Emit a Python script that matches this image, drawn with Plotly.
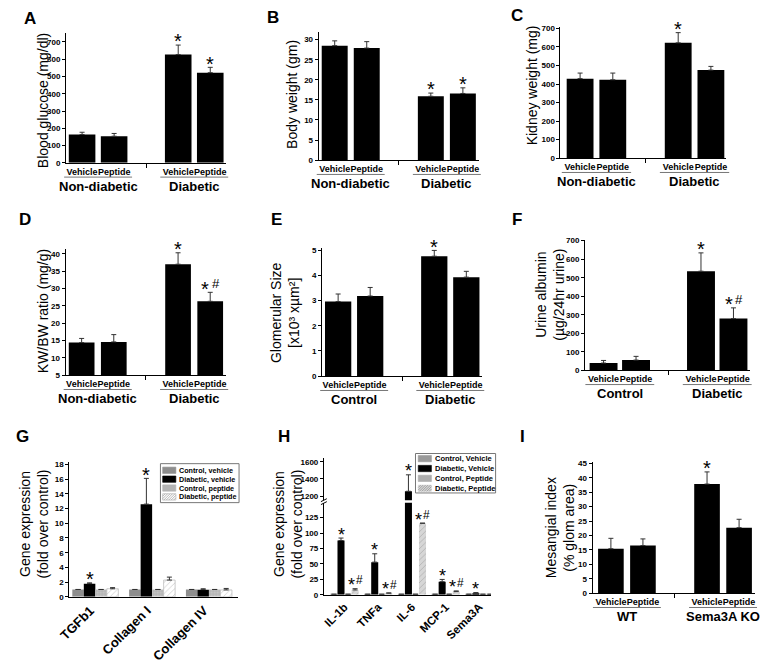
import plotly.graph_objects as go

W, H = 762, 664
FONT = "Liberation Sans, Arial, sans-serif"

# ---------------- data ----------------
treatments = ["Vehicle", "Peptide", "Vehicle", "Peptide"]
bar_pos = [0, 1, 3, 4]

glucose = [164, 154, 627, 522]
glucose_err = [13, 16, 55, 31]
glucose_sig = ["", "", "*", "*"]

body_wt = [28.5, 27.9, 15.9, 16.6]
body_wt_err = [1.2, 1.6, 0.8, 1.4]
body_wt_sig = ["", "", "*", "*"]

kidney_wt = [429, 423, 622, 475]
kidney_wt_err = [30, 36, 55, 20]
kidney_wt_sig = ["", "", "*", ""]

kwbw = [14.4, 14.6, 37.0, 26.3]
kwbw_err = [1.2, 2.1, 3.3, 2.6]
kwbw_sig = ["", "", "*", "* #"]

glom_size = [2.96, 3.18, 4.76, 3.93]
glom_size_err = [0.30, 0.34, 0.23, 0.23]
glom_size_sig = ["", "", "*", ""]

albumin = [39, 55, 535, 279]
albumin_err = [14, 20, 99, 58]
albumin_sig = ["", "", "*", "* #"]

mesangial = [15.4, 16.5, 37.8, 22.7]
mesangial_err = [3.6, 2.3, 4.2, 2.9]
mesangial_sig = ["", "", "*", ""]

g_genes = ["TGFb1", "Collagen I", "Collagen IV"]
g_series = ["Control, vehicle", "Diabetic, vehicle", "Control, peptide", "Diabetic, peptide"]
g_values = [
    [1, 1, 1],
    [1.79, 12.6, 0.98],
    [1, 1, 1],
    [1.1, 2.28, 0.94],
]
g_errors = [
    [0, 0, 0],
    [0.11, 3.5, 0.12],
    [0, 0, 0],
    [0.15, 0.4, 0.2],
]
g_sig = [
    ["", "", ""],
    ["*", "*", ""],
    ["", "", ""],
    ["", "", ""],
]

h_genes = ["IL-1b", "TNFa", "IL-6", "MCP-1", "Sema3A"]
h_series = ["Control, Vehicle", "Diabetic, Vehicle", "Control, Peptide", "Diabetic, Peptide"]
h_values = [
    [1, 1, 1, 1, 1],
    [88, 53, 1257, 21.3, 2.7],
    [1, 1, 1, 1, 1],
    [8, 2.7, 116, 5.3, 1.0],
]
h_errors = [
    [0, 0, 0, 0, 0],
    [4, 13.5, 191, 3.7, 1.0],
    [0, 0, 0, 0, 0],
    [2, 0.5, 0, 1.1, 0],
]
h_sig = [
    ["", "", "", "", ""],
    ["*", "*", "*", "*", "*"],
    ["", "", "", "", ""],
    ["*#", "*#", "*#", "*#", ""],
]

# ---------------- helpers ----------------
def px_x(p):
    return p / W

def px_y(p):
    return 1 - p / H

def ax_name(n, letter):
    return letter if n == 1 else f"{letter}{n}"

fig = go.Figure()
layout = dict(
    width=W, height=H, margin=dict(l=0, r=0, t=0, b=0),
    paper_bgcolor="white", plot_bgcolor="white",
    font=dict(family=FONT, color="black"),
    showlegend=False, barmode="overlay",
)
annotations = []
shapes = []

AX_COMMON = dict(showgrid=False, zeroline=False, showline=True, linecolor="black",
                 linewidth=1, fixedrange=True)
YTICKFONT = dict(size=8, weight="bold", family=FONT)
ERR_STYLE = dict(color="#333333", thickness=1, width=2.5)
SIG_SIZE = 20


def y_title(text, cx, cy, size=14):
    annotations.append(dict(text=text, x=px_x(cx), y=px_y(cy), xref="paper", yref="paper",
                            textangle=-90, showarrow=False, xanchor="center", yanchor="middle",
                            font=dict(size=size, family=FONT)))


def panel_letter(letter, cx, cy):
    annotations.append(dict(text=letter, x=px_x(cx), y=px_y(cy), xref="paper", yref="paper",
                            showarrow=False, xanchor="center", yanchor="middle",
                            font=dict(size=17, weight="bold", family=FONT)))


def sig_mark(text, x, y, xref, yref, size=SIG_SIZE):
    if not text:
        return
    base = dict(x=x, y=y, xref=xref, yref=yref, showarrow=False, xanchor="center", yanchor="bottom")
    if "#" in text:
        dx = 4.8 if " " in text else 3.6
        annotations.append(dict(base, text="*", xshift=-dx, yshift=-0.47 * size,
                                font=dict(size=size, family=FONT)))
        annotations.append(dict(base, text="#", xshift=dx + 0.8, yshift=-0.04 * size,
                                font=dict(size=0.66 * size, family=FONT)))
    else:
        annotations.append(dict(base, text=text, yshift=-0.47 * size, font=dict(size=size, family=FONT)))


simple_panels = [
    dict(n=1, vals=glucose, err=glucose_err, sig=glucose_sig, xpx=(55, 218), ypx=(30.75, 162),
         xr=[-0.5, 4.5], yr=[0, 750], dtick=100, tick0=0, w=0.83,
         title="Blood glucose (mg/dl)", tpos=(31, 99), groups=["Non-diabetic", "Diabetic"]),
    dict(n=2, vals=body_wt, err=body_wt_err, sig=body_wt_sig, xpx=(312, 475), ypx=(29, 159.3),
         xr=[-0.5, 4.5], yr=[0, 32], dtick=5, tick0=0, w=0.81,
         title="Body weight (gm)", tpos=(285, 93), groups=["Non-diabetic", "Diabetic"]),
    dict(n=3, vals=kidney_wt, err=kidney_wt_err, sig=kidney_wt_sig, xpx=(558, 726), ypx=(24.8, 157.3),
         xr=[-0.6, 4.45], yr=[0, 705], dtick=100, tick0=0, w=0.82,
         title="Kidney weight (mg)", tpos=(528.5, 83), groups=["Non-diabetic", "Diabetic"]),
    dict(n=4, vals=kwbw, err=kwbw_err, sig=kwbw_sig, xpx=(54.5, 218), ypx=(249, 377.3),
         xr=[-0.5, 4.5], yr=[5, 41.5], dtick=5, tick0=5, w=0.80,
         title="KW/BW ratio (mg/g)", tpos=(31, 312), groups=["Non-diabetic", "Diabetic"]),
    dict(n=5, vals=glom_size, err=glom_size_err, sig=glom_size_sig, xpx=(315.5, 478.5), ypx=(248, 378.3),
         xr=[-0.5, 4.5], yr=[0, 5.1], dtick=1, tick0=0, w=0.82,
         title="Glomerular Size<br>[x10\u00b3 x\u00b5m\u00b2]", tpos=(277, 314),
         groups=["Control", "Diabetic"]),
    dict(n=6, vals=albumin, err=albumin_err, sig=albumin_sig, xpx=(583, 750.5), ypx=(240, 372.3),
         xr=[-0.57, 4.5], yr=[0, 705], dtick=100, tick0=0, w=0.86,
         title="Urine albumin<br>(\u00b5g/24hr urine)", tpos=(547, 296), groups=["Control", "Diabetic"]),
    dict(n=9, vals=mesangial, err=mesangial_err, sig=mesangial_sig, xpx=(590.7, 756), ypx=(465.7, 598.3),
         xr=[-0.57, 4.5], yr=[0, 45.3], dtick=5, tick0=0, w=0.80,
         title="Mesangial index<br>(% glom area)", tpos=(557, 532), groups=["WT", "Sema3A KO"]),
]

for p in simple_panels:
    n = p["n"]
    xa, ya = ax_name(n, "x"), ax_name(n, "y")
    fig.add_trace(go.Bar(
        x=bar_pos, y=p["vals"], width=p["w"], xaxis=xa, yaxis=ya,
        marker=dict(color="black", line=dict(width=0)),
        error_y=dict(type="data", array=p["err"], arrayminus=[0] * len(p["err"]), symmetric=False, **ERR_STYLE),
        hoverinfo="y",
    ))
    layout[f"xaxis{'' if n == 1 else n}"] = dict(
        AX_COMMON, domain=[px_x(p["xpx"][0]), px_x(p["xpx"][1])], range=p["xr"], anchor=ya,
        tickmode="array", tickvals=bar_pos, ticktext=treatments, ticks="", tickangle=0,
        tickfont=dict(size=9, weight="bold", family=FONT),
        minor=dict(tickmode="array", tickvals=[2], ticks="outside", ticklen=4, tickcolor="black", showgrid=False),
    )
    layout[f"yaxis{'' if n == 1 else n}"] = dict(
        AX_COMMON, domain=[px_y(p["ypx"][1]), px_y(p["ypx"][0])], range=p["yr"], anchor=xa,
        ticks="outside", ticklen=3, tickcolor="black", dtick=p["dtick"], tick0=p["tick0"],
        tickfont=YTICKFONT,
    )
    y_title(p["title"], *p["tpos"])
    axis_px = p["ypx"][1]
    xr0, xr1 = p["xr"]
    for gi, gname in enumerate(p["groups"]):
        g0, g1 = bar_pos[2 * gi], bar_pos[2 * gi + 1]
        annotations.append(dict(text=gname, x=(g0 + g1) / 2, xref=xa, y=px_y(axis_px + 24), yref="paper",
                                showarrow=False, xanchor="center", yanchor="middle",
                                font=dict(size=13, weight="bold", family=FONT)))
        shapes.append(dict(type="line", xref=f"{xa} domain", yref="paper",
                           x0=(g0 - 0.56 - xr0) / (xr1 - xr0), x1=(g1 + 0.56 - xr0) / (xr1 - xr0),
                           y0=px_y(axis_px + 14.5), y1=px_y(axis_px + 14.5),
                           line=dict(color="#777777", width=1)))
    for i, s in enumerate(p["sig"]):
        sig_mark(s, bar_pos[i], p["vals"][i] + p["err"][i], xa, ya)

# ---------------- grouped panels (G and H) ----------------
g_styles = [
    dict(color="#8e8e8e"),
    dict(color="black"),
    dict(color="#b4b4b4", pattern=dict(shape=".", fgcolor="#dcdcdc", size=3, solidity=0.35)),
    dict(color="white", pattern=dict(shape="/", fgcolor="#9a9a9a", size=4, solidity=0.2),
         line=dict(color="#aaaaaa", width=0.6)),
]
h_styles = [
    dict(color="#9a9a9a"),
    dict(color="black"),
    dict(color="#adadad", pattern=dict(shape=".", fgcolor="#dddddd", size=3, solidity=0.35)),
    dict(color="#d6d6d6", pattern=dict(shape="/", fgcolor="#8a8a8a", size=4, solidity=0.2)),
]

def grouped_bars(values, errors, names, styles, xa, ya, bw, nper):
    pos = list(range(nper))
    for j, (vals, errs, name, st) in enumerate(zip(values, errors, names, styles)):
        marker = dict(color=st["color"], line=st.get("line", dict(width=0)))
        if "pattern" in st:
            marker["pattern"] = st["pattern"]
        fig.add_trace(go.Bar(
            x=pos, y=vals, width=bw, offset=-2 * bw + j * bw, name=name, xaxis=xa, yaxis=ya,
            marker=marker, showlegend=False,
            error_y=dict(type="data", array=errs, arrayminus=[0] * nper, symmetric=False, **ERR_STYLE),
        ))

# G
bw_g = 0.2025
grouped_bars(g_values, g_errors, g_series, g_styles, "x7", "y7", bw_g, len(g_genes))
layout["xaxis7"] = dict(AX_COMMON, domain=[px_x(58.3), px_x(230)], range=[-0.458, 2.513], anchor="y7",
                        tickmode="array", tickvals=list(range(len(g_genes))), ticktext=g_genes,
                        ticks="", tickangle=-45, ticklabelshift=-5,
                        tickfont=dict(size=13, weight="bold", family=FONT))
layout["yaxis7"] = dict(AX_COMMON, domain=[px_y(602), px_y(465.5)], range=[0, 18.3], anchor="x7",
                        ticks="outside", ticklen=3, tickcolor="black", dtick=2, tickfont=YTICKFONT)
y_title("Gene expression<br>(fold over control)", 22, 528)
for j in range(4):
    for i in range(len(g_genes)):
        sig_mark(g_sig[j][i], i - 2 * bw_g + (j + 0.5) * bw_g, g_values[j][i] + g_errors[j][i], "x7", "y7")

# H (broken axis: lower y8, upper y10)
bw_h = 0.2085
H_LOW_TOP = 149
grouped_bars(h_values, h_errors, h_series, h_styles, "x8", "y8", bw_h, len(h_genes))
grouped_bars(h_values, h_errors, h_series, h_styles, "x8", "y10", bw_h, len(h_genes))
layout["xaxis8"] = dict(AX_COMMON, domain=[px_x(317.3), px_x(487.3)], range=[-0.612, 4.344], anchor="y8",
                        tickmode="array", tickvals=list(range(len(h_genes))), ticktext=h_genes,
                        ticks="", tickangle=-45, tickfont=dict(size=11.5, weight="bold", family=FONT))
layout["yaxis8"] = dict(AX_COMMON, domain=[px_y(600), px_y(506.7)], range=[0, H_LOW_TOP], anchor="x8",
                        ticks="outside", ticklen=3, tickcolor="black", dtick=25, tickfont=YTICKFONT)
layout["yaxis10"] = dict(AX_COMMON, domain=[px_y(504), px_y(461.7)], range=[1154, 1638], anchor="x8",
                         ticks="outside", ticklen=3, tickcolor="black", dtick=200, tickfont=YTICKFONT)
y_title("Gene expression<br>(fold over control)", 280.5, 528)
for j in range(4):
    for i in range(len(h_genes)):
        top = h_values[j][i] + h_errors[j][i]
        sig_mark(h_sig[j][i], i - 2 * bw_h + (j + 0.5) * bw_h, top, "x8",
                 "y10" if top > H_LOW_TOP else "y8", size=18)
# axis-break marks
for dy in (0, 3):
    shapes.append(dict(type="line", xref="paper", yref="paper",
                       x0=px_x(314.3), x1=px_x(320.3), y0=px_y(505.5 + dy), y1=px_y(502.5 + dy),
                       line=dict(color="black", width=1)))

# ---------------- legends (compact, drawn as boxes) ----------------
def hatch_path(x0, x1, yt, yb, step=2.5):
    h = yb - yt
    parts = []
    c = x0 - h
    while c < x1:
        sx, sy = c, yb
        ex, ey = c + h, yt
        if sx < x0:
            sy = yb - (x0 - sx)
            sx = x0
        if ex > x1:
            ey = yt + (ex - x1)
            ex = x1
        if ex > sx:
            parts.append(f"M{px_x(sx):.5f},{px_y(sy):.5f}L{px_x(ex):.5f},{px_y(ey):.5f}")
        c += step
    return "".join(parts)

def draw_legend(names, styles, box, sw, text_x, row0, pitch, fsize, border):
    bx0, by0, bx1, by1 = box
    shapes.append(dict(type="rect", xref="paper", yref="paper", x0=px_x(bx0), x1=px_x(bx1),
                       y0=px_y(by1), y1=px_y(by0), fillcolor="white", line=dict(color=border, width=1)))
    for k, (name, st) in enumerate(zip(names, styles)):
        cy = row0 + k * pitch
        yt, yb = cy - 3.2, cy + 3.2
        fill = st["color"]
        shapes.append(dict(type="rect", xref="paper", yref="paper", x0=px_x(sw[0]), x1=px_x(sw[1]),
                           y0=px_y(yb), y1=px_y(yt), fillcolor=fill,
                           line=dict(color=st.get("line", {}).get("color", fill), width=0.6)))
        pat = st.get("pattern")
        if pat and pat["shape"] == "/":
            shapes.append(dict(type="path", xref="paper", yref="paper", path=hatch_path(sw[0], sw[1], yt, yb),
                               line=dict(color=pat["fgcolor"], width=0.7)))
        annotations.append(dict(text=name, x=px_x(text_x), y=px_y(cy), xref="paper", yref="paper",
                                showarrow=False, xanchor="left", yanchor="middle",
                                font=dict(size=fsize, weight="bold", family=FONT)))

draw_legend(g_series, g_styles, (151, 467, 231, 506.5), (153.3, 166.7), 167.5, 473.7, 9.0, 7.2, "#777777")
draw_legend(h_series, h_styles, (410.5, 456.7, 492, 496.7), (413.3, 426.7), 428.5, 461.9, 10.0, 7.5, "#777777")

# ---------------- panel letters ----------------
for letter, cx, cy in [("A", 18, 16), ("B", 266, 15), ("C", 514, 13), ("D", 13, 219), ("E", 269, 219),
                       ("F", 514, 219), ("G", 11, 439), ("H", 277, 439), ("I", 519, 439)]:
    panel_letter(letter, cx, cy)

layout["annotations"] = annotations
layout["shapes"] = shapes
fig.update_layout(**layout)
fig.write_html("out.html", config={"displayModeBar": False},
               post_script="document.body.style.margin='0';")
